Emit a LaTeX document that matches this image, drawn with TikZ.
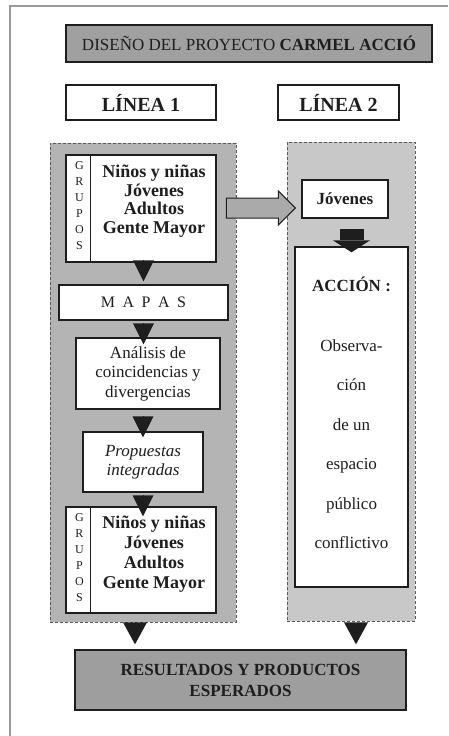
\documentclass[tikz,border=0pt]{standalone}
\usepackage{fontspec}
\setmainfont{Liberation Serif}
\usetikzlibrary{arrows.meta,calc}
\definecolor{panelL}{RGB}{180,180,180}
\definecolor{panelR}{RGB}{200,200,200}
\definecolor{titlefill}{RGB}{160,160,160}
\definecolor{resfill}{RGB}{158,158,158}
\definecolor{arrfill}{RGB}{170,170,170}
\definecolor{ink}{RGB}{30,30,30}
\begin{document}
\begin{tikzpicture}[x=1pt,y=-1pt,
  box/.style={draw=ink,line width=1.3pt,fill=white,inner sep=0pt,align=center,text=ink},
  panel/.style={draw=black!65,densely dashed,line width=0.7pt,inner sep=0pt},
  txt/.style={inner sep=0pt,align=center,text=ink},
  tri/.style={line width=0.1pt,ink,-{Triangle[width=21pt,length=21pt,line width=0pt]}},
  bigtri/.style={line width=0.1pt,ink,-{Triangle[width=24pt,length=22pt,line width=0pt]}},
  grp/.style={txt,font=\fontsize{12}{16}\selectfont}
]
\useasboundingbox (0,0) rectangle (448,736);
% frame (top and left edges)
\draw[black!40,line width=1.5pt] (448,6) -- (10,6) -- (10,736);

% title
\node[box,fill=titlefill,line width=1.5pt,minimum width=366pt,minimum height=37pt,
  font=\fontsize{17}{20}\selectfont] (title) at (249,43.5)
  {DISEÑO DEL PROYECTO \textbf{CARMEL ACCIÓ}};

\node[box,minimum width=150pt,minimum height=35pt,font=\fontsize{20}{22}\selectfont\bfseries]
  (l1) at (141,102.5) {LÍNEA 1};
\node[box,minimum width=121pt,minimum height=35pt,font=\fontsize{20}{22}\selectfont\bfseries]
  (l2) at (338.5,102.5) {LÍNEA 2};

% panels
\node[panel,fill=panelL,minimum width=186pt,minimum height=479pt] (pL) at (143,382.5) {};
\node[panel,fill=panelR,minimum width=128pt,minimum height=479pt] (pR) at (351,381.5) {};

% groups box 1
\node[box,minimum width=150pt,minimum height=107pt] (g1) at (141,208.5) {};
\draw[ink,line width=1.2pt] ($(g1.north west)+(25,0)$) -- ($(g1.south west)+(25,0)$);
\node[grp,anchor=north] (g1l) at (79.5,161) {G\\R\\U\\P\\O\\S};
\node[txt,anchor=north,font=\fontsize{18}{18.8}\selectfont\bfseries] (g1t) at (154,164.5)
  {Niños y niñas\\Jóvenes\\Adultos\\Gente Mayor};

% MAPAS
\node[box,minimum width=169pt,minimum height=35pt,font=\fontsize{16}{18}\selectfont] (mapas) at (143.5,302.5)
  {M\hspace{7.5pt}A\hspace{7.5pt}P\hspace{7.5pt}A\hspace{7.5pt}S};

% Analisis
\node[box,minimum width=144pt,minimum height=71pt,font=\fontsize{17}{19.5}\selectfont] (an) at (148,373.5)
  {Análisis de\\coincidencias y\\divergencias};

% Propuestas
\node[box,minimum width=120pt,minimum height=60pt,font=\fontsize{17}{19.5}\selectfont\itshape] (prop) at (143,462)
  {Propuestas\\integradas};

% groups box 2
\node[box,minimum width=150pt,minimum height=106pt] (g2) at (141,560) {};
\draw[ink,line width=1.2pt] ($(g2.north west)+(25,0)$) -- ($(g2.south west)+(25,0)$);
\node[grp,anchor=north] (g2l) at (79.5,513) {G\\R\\U\\P\\O\\S};
\node[txt,anchor=north,font=\fontsize{18}{20}\selectfont\bfseries] (g2t) at (154,515.5)
  {Niños y niñas\\Jóvenes\\Adultos\\Gente Mayor};

% right column
\node[box,minimum width=86pt,minimum height=38pt,font=\fontsize{17}{20}\selectfont\bfseries] (jov) at (345,199) {Jóvenes};
\node[box,minimum width=113pt,minimum height=340pt] (acc) at (351.5,417) {};
\node[txt,anchor=north,font=\fontsize{17}{39.5}\selectfont] (acct) at (351.5,277)
  {\textbf{ACCIÓN :}\\[20pt]Observa-\\ción\\de un\\espacio\\público\\conflictivo};

% results
\node[box,fill=resfill,minimum width=331pt,minimum height=60pt,font=\fontsize{17}{21}\selectfont\bfseries]
  (res) at (240.5,680) {RESULTADOS Y PRODUCTOS\\ESPERADOS};

% horizontal grey block arrow
\coordinate (tipH) at ($(jov.west)+(-6,9)$);
\filldraw[fill=arrfill,draw=ink,line width=1pt,line join=miter]
  ($(tipH)+(-69,-10)$) -- ($(tipH)+(-17,-10)$) -- ($(tipH)+(-17,-17)$) -- (tipH)
  -- ($(tipH)+(-17,17)$) -- ($(tipH)+(-17,10)$) -- ($(tipH)+(-69,10)$) -- cycle;

% black block arrow Jovenes -> Accion
\draw[ink,line width=24pt,-{Triangle[width=37pt,length=12pt,line width=0pt]},shorten <=10pt,shorten >=-6pt]
  (acc.north |- jov.south) -- (acc.north);

% triangles
\draw[tri,shorten >=3pt] (mapas.north |- g1.south) -- (mapas.north);
\draw[tri,shorten <=4pt,shorten >=-7pt] (mapas.south) -- (mapas.south |- an.north);
\draw[tri,shorten <=8pt,shorten >=-6pt] (prop.north |- an.south) -- (prop.north);
\draw[tri,shorten <=3pt,shorten >=-10pt] (prop.south) -- (prop.south |- g2.north);
\coordinate (bl) at ($(pL.south)+(-8,0)$);
\coordinate (br) at ($(pR.south)+(5,0)$);
\draw[bigtri,shorten <=1pt,shorten >=5pt] (bl) -- (bl |- res.north);
\draw[bigtri,shorten <=1pt,shorten >=5pt] (br) -- (br |- res.north);
\end{tikzpicture}
\end{document}
